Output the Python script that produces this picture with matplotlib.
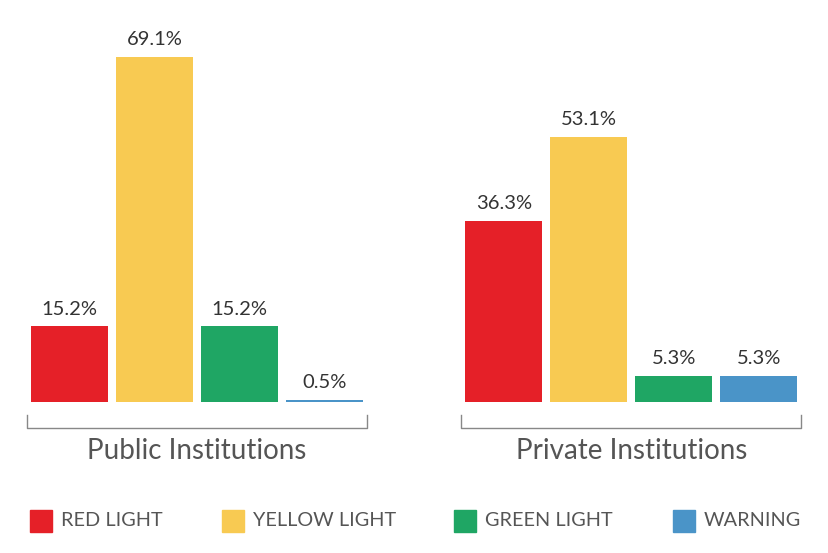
import matplotlib.pyplot as plt
from matplotlib.patches import Rectangle

# Data
groups = ['Public Institutions', 'Private Institutions']
categories = ['RED LIGHT', 'YELLOW LIGHT', 'GREEN LIGHT', 'WARNING']
public_vals = [15.2, 69.1, 15.2, 0.5]
private_vals = [36.3, 53.1, 5.3, 5.3]
colors = ['#E52028', '#F8CA52', '#1FA664', '#4A94C8']

plt.rcParams['font.family'] = ['Lato', 'DejaVu Sans']

W, H = 829, 553
fig = plt.figure(figsize=(W / 100, H / 100), dpi=100)
ax = fig.add_axes([0, 151 / H, 1, 402 / H])
ax.set_xlim(-0.818, 8.935)
ax.set_ylim(0, 80.4)
ax.axis('off')

group_start = [0, 5.11]
for g, vals in enumerate([public_vals, private_vals]):
    xs = [group_start[g] + i for i in range(len(vals))]
    ax.bar(xs, vals, width=0.906, color=colors)
    for x, v in zip(xs, vals):
        ax.annotate(f'{v}%', (x, v), xytext=(0, 8), textcoords='offset points',
                    ha='center', va='baseline', fontsize=14.5, color='#333333')
    # bracket under the group
    left, right = xs[0] - 0.5, xs[-1] + 0.5
    ax.plot([left, left, right, right], [-2.6, -5.2, -5.2, -2.6],
            color='#888888', lw=1, clip_on=False)
    ax.text((xs[0] + xs[-1]) / 2, -9.8, groups[g], ha='center', va='center',
            fontsize=20, color='#555555')

# Legend drawn by hand
sq_x = [30, 222, 454, 673]
for i, cat in enumerate(categories):
    fig.add_artist(Rectangle((sq_x[i] / W, 21 / H), 22 / W, 22 / H,
                             transform=fig.transFigure, color=colors[i]))
    fig.text((sq_x[i] + 31) / W, 32 / H, cat, ha='left', va='center',
             fontsize=14.3, color='#555555')

fig.savefig('out.png', dpi=100)
